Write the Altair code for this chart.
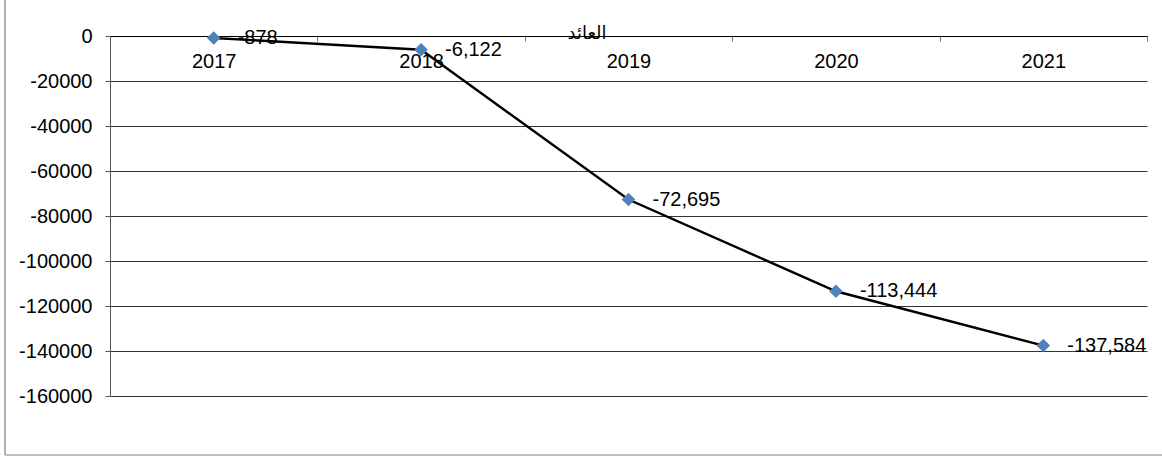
import altair as alt
import pandas as pd

years = ["2017", "2018", "2019", "2020", "2021"]
values = [-878, -6122, -72695, -113444, -137584]
labels = [f"{v:,}" for v in values]
y_ticks = [0, -20000, -40000, -60000, -80000, -100000, -120000, -140000, -160000]
title_text = "العائد"

df = pd.DataFrame({"year": years, "value": values, "label": labels})

FONT = "Liberation Sans"
W, H = 1037, 360

xscale = alt.Scale(type="band", paddingInner=0, paddingOuter=0, domain=years)
yscale = alt.Scale(domain=[-160000, 0], nice=False, zero=False)

x_axis = alt.Axis(
    orient="bottom", offset=-H, title=None, labelAngle=0, labelFontSize=20,
    labelFont=FONT, labelColor="black", domainColor="black", domainWidth=1,
    tickColor="#777", tickSize=5, tickBand="extent", labelPadding=10,
    grid=False, labelOverlap=False,
)
y_axis = alt.Axis(
    values=y_ticks, labelExpr="'' + datum.value", title=None, grid=True,
    gridColor="#333333", gridWidth=1, domainColor="#555", tickColor="#555",
    tickSize=5, labelFontSize=20, labelFont=FONT, labelPadding=13,
    labelColor="black",
)

base = alt.Chart(df)

line = base.mark_line(color="black", strokeWidth=2.4).encode(
    x=alt.X("year:N", scale=xscale, axis=x_axis, bandPosition=0.5),
    y=alt.Y("value:Q", scale=yscale, axis=y_axis),
)
pts = base.mark_point(shape="diamond", filled=True, color="#4F81BD", size=185, opacity=1).encode(
    x=alt.X("year:N", scale=xscale, bandPosition=0.5),
    y=alt.Y("value:Q", scale=yscale),
)
txt = base.mark_text(align="left", baseline="middle", dx=24, fontSize=20, font=FONT, color="black").encode(
    x=alt.X("year:N", scale=xscale, bandPosition=0.5),
    y=alt.Y("value:Q", scale=yscale),
    text="label:N",
)
ttl = alt.Chart(pd.DataFrame({"t": [title_text]})).mark_text(
    fontSize=18, font="DejaVu Sans", color="black", align="center", baseline="middle"
).encode(x=alt.value(477), y=alt.value(-2), text="t:N")

frame_df = pd.DataFrame({"a": [0]})
frame_left = alt.Chart(frame_df).mark_rule(color="#999", strokeWidth=1.5).encode(
    x=alt.value(-105), y=alt.value(-36), y2=alt.value(419)
)
frame_bottom = alt.Chart(frame_df).mark_rule(color="#aaa", strokeWidth=1.5).encode(
    x=alt.value(-105), x2=alt.value(1052), y=alt.value(419)
)

chart = alt.layer(line, pts, txt, ttl, frame_left, frame_bottom).properties(
    width=W, height=H,
    background="white",
    padding={"left": 110, "top": 36, "right": 15, "bottom": 61},
    autosize=alt.AutoSizeParams(type="none"),
).configure_view(stroke=None)

chart.save("out.html", embed_options={"renderer": "svg", "actions": False})
